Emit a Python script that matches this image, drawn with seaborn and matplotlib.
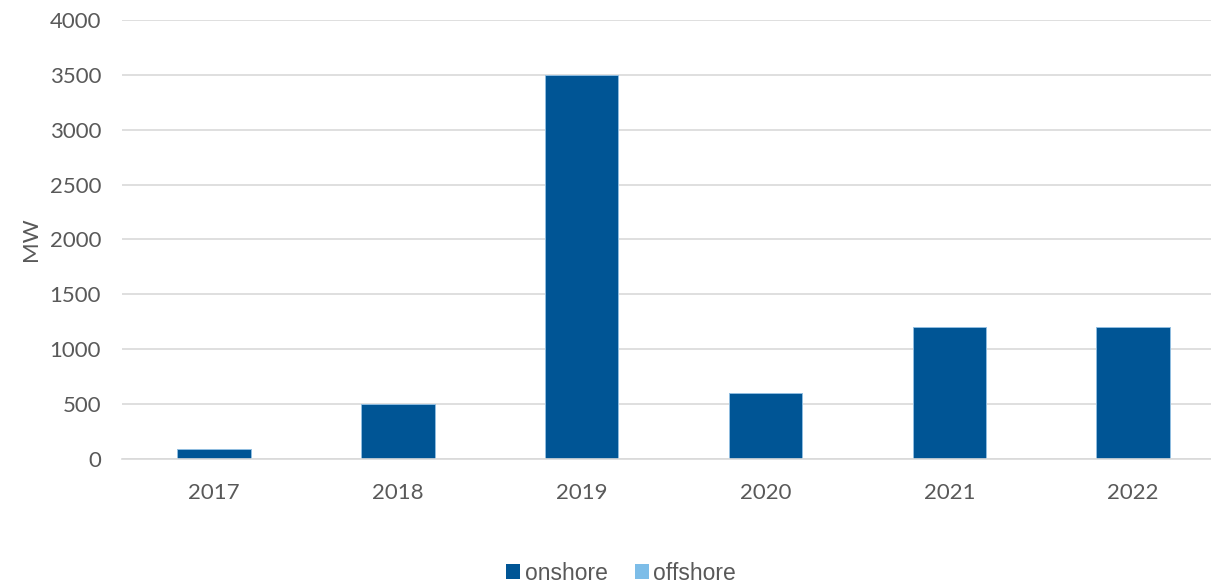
import matplotlib
matplotlib.use("Agg")
import matplotlib.pyplot as plt
import seaborn as sns
import pandas as pd
from matplotlib.patches import Patch

years = ["2017", "2018", "2019", "2020", "2021", "2022"]
onshore = [90, 500, 3500, 600, 1200, 1200]
offshore = [0, 0, 0, 0, 0, 0]
yticks = [0, 500, 1000, 1500, 2000, 2500, 3000, 3500, 4000]

c_on = "#005595"
c_off = "#7dbde8"
txt = "#595959"

sns.set_theme(style="white")
plt.rcParams["font.family"] = ["Lato", "DejaVu Sans"]

df = pd.DataFrame({"year": years, "onshore": onshore, "offshore": offshore})
df["total"] = df["onshore"] + df["offshore"]

fig = plt.figure(figsize=(12.11, 5.83), dpi=100)
ax = fig.add_axes([0.1007, 0.2127, 0.911, 0.753])

sns.barplot(data=df, x="year", y="total", color=c_off, width=0.4, ax=ax,
            saturation=1, edgecolor="#9cc6e6", linewidth=0.6)
sns.barplot(data=df, x="year", y="onshore", color=c_on, width=0.4, ax=ax,
            saturation=1, edgecolor="#9cc6e6", linewidth=0.6)

ax.set_ylim(0, 4000)
ax.set_yticks(yticks)
ax.set_yticklabels([str(v) for v in yticks])
ax.yaxis.grid(True, color="#d9d9d9", linewidth=1.2)
ax.set_axisbelow(True)
for s in ["top", "right", "left"]:
    ax.spines[s].set_visible(False)
ax.spines["bottom"].set_color("#d9d9d9")
ax.spines["bottom"].set_linewidth(1.2)
ax.tick_params(axis="both", length=0, labelsize=16, colors=txt)
ax.tick_params(axis="x", pad=17)
ax.tick_params(axis="y", pad=15)
ax.set_xlabel("")
ax.set_ylabel("MW", fontsize=16, color=txt, labelpad=6)

handles = [Patch(facecolor=c_on, edgecolor="none", label="onshore"),
           Patch(facecolor=c_off, edgecolor="none", label="offshore")]
fig.legend(handles=handles, loc="center", bbox_to_anchor=(0.513, 0.017),
           ncol=2, frameon=False, handlelength=0.6,
           handleheight=0.6, handletextpad=0.2, columnspacing=1.2,
           labelcolor=txt, prop={"family": "Liberation Sans", "size": 16.5})

fig.savefig("out.png", dpi=100)
